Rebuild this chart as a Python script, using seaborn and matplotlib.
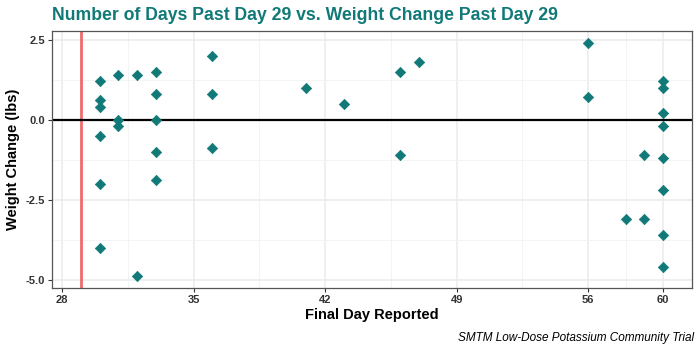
import matplotlib.pyplot as plt
import numpy as np
import pandas as pd
import seaborn as sns

# values
final_day = [30, 30, 30, 30, 30, 30,
             31, 31, 31,
             32, 32,
             33, 33, 33, 33, 33,
             36, 36, 36,
             41, 43, 46, 47, 46,
             56, 56,
             60, 60, 60, 60, 60, 60, 60, 60,
             59, 59, 58]
weight_change = [1.2, 0.6, 0.4, -0.5, -2.0, -4.0,
                 1.4, 0.0, -0.2,
                 1.4, -4.9,
                 1.5, 0.8, 0.0, -1.0, -1.9,
                 2.0, 0.8, -0.9,
                 1.0, 0.5, 1.5, 1.8, -1.1,
                 2.4, 0.7,
                 1.2, 1.0, 0.2, -0.2, -1.2, -2.2, -3.6, -4.6,
                 -1.1, -3.1, -3.1]
x_ticks = [28, 35, 42, 49, 56, 60]
y_ticks = [-5.0, -2.5, 0.0, 2.5]
cutoff_day = 29

TEAL = "#117a78"
RED = "#ee6b6e"

df = pd.DataFrame({"final_day": final_day, "weight_change": weight_change})

sns.set_theme(style="whitegrid")
plt.rcParams["font.family"] = ["Liberation Sans", "DejaVu Sans"]

fig = plt.figure(figsize=(7, 3.5), dpi=100)
ax = fig.add_axes([0.074, 0.177, 0.915, 0.734])

ax.axvline(cutoff_day, color=RED, lw=2, zorder=2)
ax.axhline(0, color="black", lw=1.6, zorder=2)
sns.scatterplot(data=df, x="final_day", y="weight_change", marker="D",
                s=28, color=TEAL, edgecolor=TEAL, linewidth=0.5,
                zorder=3, ax=ax)

ax.set_xlim(27.45, 61.55)
ax.set_ylim(-5.265, 2.765)
ax.set_xticks(x_ticks)
ax.set_yticks(y_ticks)
ax.set_xticklabels([str(t) for t in x_ticks])
ax.set_yticklabels([f"{t:.1f}" for t in y_ticks])
minor_x = [31.5, 38.5, 45.5, 52.5, 58]
minor_y = [-3.75, -1.25, 1.25]
ax.set_xticks(minor_x, minor=True)
ax.set_yticks(minor_y, minor=True)

ax.grid(which="major", color="#ebebeb", lw=1.1)
ax.grid(which="minor", color="#f3f3f3", lw=0.6)
ax.set_facecolor("white")
for sp in ax.spines.values():
    sp.set_color("#555555")
    sp.set_linewidth(0.9)

ax.tick_params(axis="both", which="major", length=3, width=0.8, color="#333333",
               labelsize=8, labelcolor="#333333", pad=2, bottom=True, left=True)
ax.tick_params(axis="both", which="minor", length=0)
for lab in ax.get_xticklabels() + ax.get_yticklabels():
    lab.set_fontweight("bold")

ax.set_xlabel("Final Day Reported", fontsize=10.5, fontweight="bold", color="black", labelpad=2)
ax.set_ylabel("Weight Change (lbs)", fontsize=10.5, fontweight="bold", color="black", labelpad=4)

fig.text(0.074, 0.955, "Number of Days Past Day 29 vs. Weight Change Past Day 29",
         fontsize=12.7, fontweight="bold", color=TEAL, ha="left", va="center")
fig.text(0.992, 0.035, "SMTM Low-Dose Potassium Community Trial",
         fontsize=8.5, style="italic", color="black", ha="right", va="center")

fig.savefig("out.png", dpi=100)
